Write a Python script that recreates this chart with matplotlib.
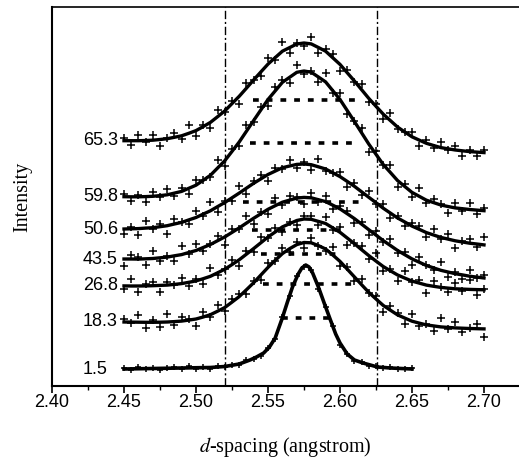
import numpy as np
import matplotlib.pyplot as plt
from matplotlib.ticker import MultipleLocator, FormatStrFormatter

plt.rcParams['mathtext.fontset'] = 'stix'

# labels of the patterns, top to bottom
labels = ['65.3', '59.8', '50.6', '43.5', '26.8', '18.3', '1.5']

# d-spacing grid of the broad patterns (step 0.005)
d_grid = np.linspace(2.45, 2.70, 51)
# d-spacing grid of the narrow 1.5 pattern
d_grid_15 = np.linspace(2.45, 2.65, 41)

# fitted curves (intensity, arbitrary units incl. vertical offset)
fit_653 = [245.3, 245.3, 245.3, 245.5, 245.8, 246.5, 247.3, 248.7, 250.2, 252.7,
           255.4, 259.4, 263.6, 269.3, 275.1, 282.4, 289.7, 297.8, 306.0, 314.0,
           321.9, 328.4, 334.8, 338.4, 342.0, 343.0, 342.1, 338.5, 334.8, 328.2,
           321.6, 313.3, 305.0, 296.3, 287.6, 279.7, 271.9, 265.4, 258.9, 254.0,
           249.2, 245.9, 242.7, 240.5, 238.4, 237.2, 236.0, 235.2, 234.4, 233.9, 233.4]
fit_598 = [189.3, 189.2, 189.2, 189.4, 189.7, 190.4, 191.2, 192.9, 194.6, 197.7,
           200.8, 205.7, 210.7, 218.0, 225.3, 234.6, 244.0, 254.7, 265.4, 276.0,
           286.5, 295.1, 303.7, 308.7, 313.7, 315.0, 313.8, 309.0, 304.1, 295.3,
           286.5, 275.5, 264.5, 253.2, 241.9, 231.7, 221.5, 213.5, 205.4, 199.5,
           193.6, 189.7, 185.8, 183.4, 181.0, 179.5, 178.1, 177.3, 176.5, 175.9, 175.3]
fit_506 = [157.0, 157.2, 157.4, 157.9, 158.3, 159.3, 160.3, 162.0, 163.6, 166.1,
           168.5, 171.9, 175.2, 179.4, 183.5, 188.2, 192.9, 197.8, 202.7, 207.1,
           211.5, 214.9, 218.3, 220.0, 221.6, 222.0, 221.3, 219.2, 217.0, 213.2,
           209.4, 204.6, 199.7, 194.2, 188.7, 183.3, 177.8, 172.9, 168.0, 164.0,
           159.9, 156.7, 153.4, 151.0, 148.6, 146.9, 145.2, 144.0, 142.8, 142.0, 141.1]
fit_435 = [127.0, 127.0, 126.9, 127.2, 127.5, 128.2, 128.9, 130.2, 131.4, 133.5,
           135.5, 138.5, 141.5, 145.3, 149.1, 153.6, 158.1, 162.9, 167.7, 172.2,
           176.7, 180.3, 183.8, 185.9, 187.9, 188.6, 188.2, 186.3, 184.4, 180.8,
           177.1, 172.3, 167.4, 161.9, 156.3, 150.9, 145.4, 140.5, 135.5, 131.3,
           127.1, 123.8, 120.5, 118.1, 115.7, 114.0, 112.3, 111.1, 109.8, 108.9, 108.0]
fit_268 = [100.1, 100.0, 100.0, 100.1, 100.3, 100.6, 100.9, 101.6, 102.4, 103.7,
           105.1, 107.3, 109.7, 113.2, 116.8, 121.4, 126.2, 131.8, 137.4, 143.2,
           149.0, 154.0, 159.1, 162.3, 165.5, 167.0, 166.7, 164.6, 162.5, 158.1,
           153.7, 148.0, 142.3, 136.3, 130.4, 124.9, 119.5, 115.2, 111.0, 107.9,
           104.9, 102.9, 100.9, 99.7, 98.6, 97.9, 97.2, 96.9, 96.6, 96.4, 96.2]
fit_183 = [64.0, 63.9, 63.8, 63.7, 63.7, 63.8, 64.0, 64.4, 64.9, 65.9,
           67.0, 69.0, 71.3, 74.8, 78.5, 83.9, 89.4, 96.2, 103.2, 110.9,
           118.6, 125.6, 132.4, 137.3, 141.4, 143.5, 143.2, 140.4, 137.0, 131.0,
           124.6, 116.9, 109.1, 101.3, 93.6, 87.0, 80.6, 75.8, 71.1, 67.9,
           64.8, 62.9, 61.1, 60.1, 59.1, 58.6, 58.1, 57.8, 57.5, 57.3, 57.1]
fit_15_d = [2.45, 2.47, 2.49, 2.51, 2.52, 2.53, 2.5375, 2.542, 2.547, 2.551,
            2.555, 2.5597, 2.5635, 2.567, 2.571, 2.5735, 2.5762, 2.5785, 2.581, 2.585,
            2.589, 2.5931, 2.597, 2.600, 2.605, 2.610, 2.616, 2.626, 2.635, 2.65]
fit_15 = [17, 17.5, 18, 18.5, 19.5, 22, 26, 29, 33, 39,
          48, 67, 84, 99, 112, 118, 121, 119, 113, 99,
          83, 67, 52, 43, 32, 26, 23, 19, 18, 17]

# measured points
obs_653 = [248, 241, 251, 244, 251, 240, 248, 253, 247, 261, 250, 261, 258, 276, 274, 285, 282,
           303, 306, 310, 328, 326, 344, 333, 343, 340, 349, 333, 337, 332, 315, 316, 304, 302,
           284, 282, 267, 273, 257, 254, 254, 240, 246, 238, 244, 236, 240, 230, 236, 230, 236]
obs_598 = [192, 185, 191, 184, 194, 189, 197, 190, 198, 192, 206, 206, 209, 226, 220, 237, 240,
           261, 264, 279, 280, 299, 306, 303, 321, 312, 315, 304, 313, 293, 293, 272, 265, 258,
           234, 235, 221, 221, 199, 202, 189, 198, 183, 187, 182, 173, 183, 175, 183, 172, 178]
obs_506 = [152, 159, 151, 165, 157, 162, 152, 167, 164, 162, 175, 170, 184, 174, 185, 185, 200,
           192, 205, 211, 205, 218, 217, 226, 218, 224, 216, 227, 215, 213, 214, 199, 203, 191,
           195, 182, 182, 168, 170, 160, 163, 160, 149, 157, 147, 152, 138, 145, 147, 139, 149]
obs_435 = [120, 131, 129, 121, 135, 125, 130, 125, 140, 132, 142, 135, 142, 150, 141, 157, 157,
           170, 162, 174, 172, 188, 181, 190, 189, 182, 193, 184, 190, 177, 180, 175, 163, 164,
           151, 155, 144, 147, 133, 134, 121, 129, 121, 116, 124, 109, 114, 107, 116, 108, 111]
obs_268 = [97, 107, 94, 102, 104, 94, 104, 101, 108, 100, 107, 102, 118, 111, 117, 126, 120,
           135, 134, 149, 148, 158, 154, 164, 161, 170, 170, 161, 169, 156, 159, 141, 143, 140,
           127, 133, 115, 117, 105, 115, 104, 106, 93, 105, 99, 94, 103, 95, 106, 91, 97]
obs_183 = [67, 63, 71, 58, 66, 59, 72, 61, 69, 67, 60, 74, 69, 81, 75, 87, 92, 92, 105, 106,
           123, 125, 138, 134, 144, 138, 148, 140, 135, 139, 120, 119, 105, 107, 93, 90, 74, 80,
           73, 62, 72, 60, 62, 55, 68, 57, 64, 54, 58, 62, 49]
obs_15 = [18, 16, 18.7, 16.8, 18.5, 16.1, 18.3, 18.9, 17, 19.6, 17.2, 18.9, 17, 20, 19, 21.5,
          21, 26, 27.5, 30, 38, 47.5, 69.5, 90, 110.5, 119, 116, 97.5, 79.5, 60, 41.5, 32.5,
          25.5, 24.5, 20, 20, 17.7, 19.5, 17.1, 17.3, 18]

# half-width markers (start, end, level)
hw_start = [2.5396, 2.5375, 2.5326, 2.5390, 2.5450, 2.5465, 2.5600]
hw_end = [2.6104, 2.6118, 2.6139, 2.6000, 2.6000, 2.6118, 2.5924]
hw_level = [286, 243, 184, 156, 132, 102, 68]

# reference lines
ref_d = [2.520, 2.626]

fits = [fit_653, fit_598, fit_506, fit_435, fit_268, fit_183]
obs = [obs_653, obs_598, obs_506, obs_435, obs_268, obs_183]

fig = plt.figure(figsize=(5.19, 4.59), dpi=100)
ax = fig.add_axes([52 / 519, 73 / 459, 467 / 519, 379 / 459])

for f, o in zip(fits, obs):
    ax.plot(d_grid, o, ls='none', marker='+', ms=6, mew=1.1, color='k')
    ax.plot(d_grid, f, color='k', lw=2.4)
ax.plot(d_grid_15, obs_15, ls='none', marker='+', ms=5, mew=1.1, color='k')
ax.plot(fit_15_d, fit_15, color='k', lw=2.6)

for x0, x1, h in zip(hw_start, hw_end, hw_level):
    ax.plot([x0, x1], [h, h], color='k', lw=2.6, ls=(0, (1.6, 2.2)),
            solid_capstyle='butt', dash_capstyle='butt')

for x in ref_d:
    ax.axvline(x, color='k', lw=1.0, ls=(0, (6, 2, 1.5, 2)))

firsts = [f[0] for f in fits] + [fit_15[0]]
for lab, y in zip(labels, firsts):
    ax.text(2.4215, y, lab, ha='left', va='center', fontsize=13,
            family='Liberation Sans')

ax.set_xlim(2.40, 2.40 + 467 / 1440)
ax.set_ylim(0, 379)
ax.spines['right'].set_visible(False)
ax.spines['left'].set_linewidth(1.5)
ax.spines['bottom'].set_linewidth(1.5)
ax.spines['top'].set_linewidth(1.2)
ax.set_yticks([])
ax.xaxis.set_major_locator(MultipleLocator(0.05))
ax.xaxis.set_minor_locator(MultipleLocator(0.025))
ax.xaxis.set_major_formatter(FormatStrFormatter('%.2f'))
ax.tick_params(axis='x', which='major', direction='out', length=5, width=1.2, pad=1,
               labelsize=13)
ax.tick_params(axis='x', which='minor', direction='out', length=3, width=1.0)
for t in ax.get_xticklabels():
    t.set_family('Liberation Sans')

ax.set_xlabel('$d$-spacing (angstrom)', family='Liberation Serif', fontsize=14.5,
              labelpad=17)
ax.set_ylabel('Intensity', family='Liberation Serif', fontsize=14.5, labelpad=14)

fig.savefig('out.png', dpi=100)
